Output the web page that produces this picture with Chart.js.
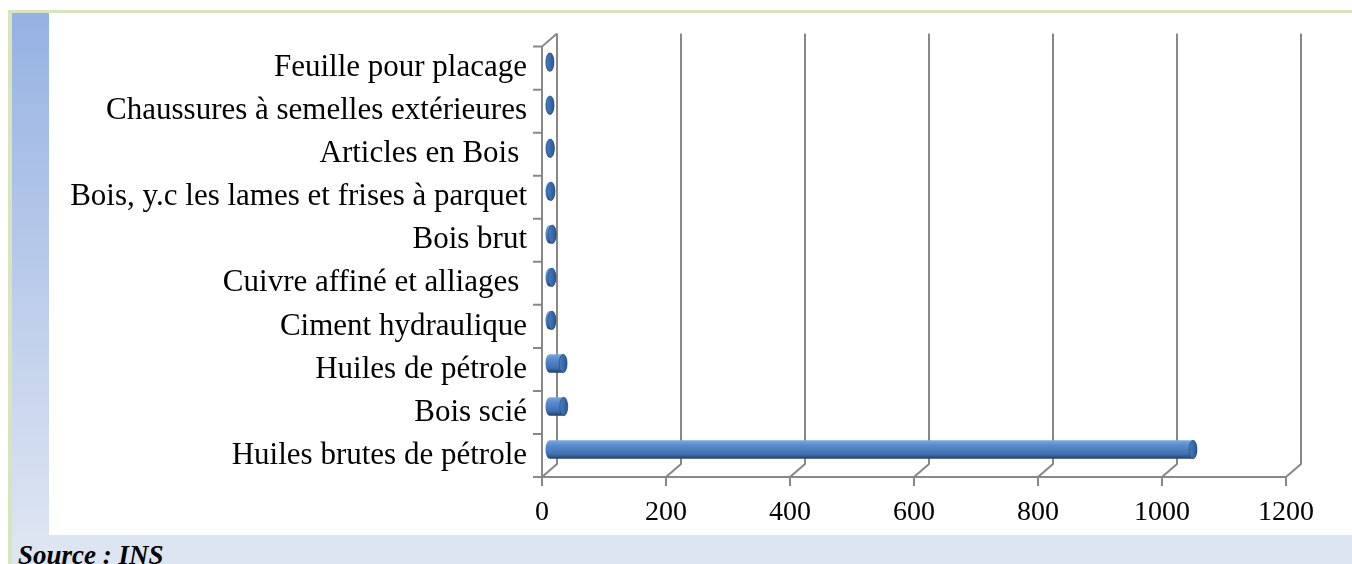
<!DOCTYPE html>
<html>
<head>
<meta charset="utf-8">
<script src="https://cdn.jsdelivr.net/npm/chart.js@4/dist/chart.umd.min.js"></script>
<style>
    html, body { margin: 0; padding: 0; background: #fff; }
    #frame { position: relative; width: 1352px; height: 564px; overflow: hidden; background: #fff; }
    #greenTop { position: absolute; left: 8px; top: 10px; width: 1344px; height: 3px; background: #d7e4bd; }
    #greenLeft { position: absolute; left: 8px; top: 10px; width: 4px; height: 554px; background: #d7e4bd; }
    #strip { position: absolute; left: 12px; top: 13px; width: 37px; height: 551px;
             background: linear-gradient(#96b2e2 0%, #dde4f2 95%); }
    #band { position: absolute; left: 12px; top: 535px; width: 1340px; height: 29px; background: #dde4f2; }
    #source { position: absolute; left: 18px; top: 540px; line-height: 27px;
              font: bold italic 27px "Liberation Serif", serif; color: #000; white-space: nowrap; }
    #wrap { position: absolute; left: 49px; top: 13px; width: 1303px; height: 522px; }
</style>
</head>
<body>
<div id="frame">
    <div id="greenTop"></div>
    <div id="greenLeft"></div>
    <div id="strip"></div>
    <div id="band"></div>
    <div id="source">Source : INS</div>
    <div id="wrap"><canvas id="chart"></canvas></div>
</div>
<script>
    // categories, top to bottom
    const categories = [
        'Feuille pour placage',
        'Chaussures à semelles extérieures',
        'Articles en Bois ',
        'Bois, y.c les lames et frises à parquet',
        'Bois brut',
        'Cuivre affiné et alliages ',
        'Ciment hydraulique',
        'Huiles de pétrole',
        'Bois scié',
        'Huiles brutes de pétrole'
    ];
    const values = [0.8, 1, 1.5, 2.5, 4.5, 4, 4, 22, 23, 1038];
    const xTicks = [0, 200, 400, 600, 800, 1000, 1200];

    // depth of the 3D box (back wall offset)
    const DX = 15, DY = 13;
    const GRID = '#888888';

    // back wall grid, floor diagonals, front edges and tick marks
    const frame3d = {
        id: 'frame3d',
        beforeDatasetsDraw(chart) {
            const ctx = chart.ctx, a = chart.chartArea;
            const xs = chart.scales.x, ys = chart.scales.y;
            ctx.save();
            ctx.strokeStyle = GRID;
            ctx.lineWidth = 2;
            ctx.beginPath();
            xTicks.forEach(function (v) {
                const x = xs.getPixelForValue(v);
                ctx.moveTo(x, a.bottom + 9);
                ctx.lineTo(x, a.bottom);
                ctx.lineTo(x + DX, a.bottom - DY);
                ctx.lineTo(x + DX, a.top - DY);
            });
            ctx.moveTo(a.left, a.bottom);
            ctx.lineTo(xs.getPixelForValue(1200), a.bottom);
            ctx.moveTo(a.left, a.bottom);
            ctx.lineTo(a.left, a.top);
            ctx.lineTo(a.left + DX, a.top - DY);
            for (let i = 0; i <= categories.length; i++) {
                const y = ys.getPixelForValue(i - 0.5);
                ctx.moveTo(a.left - 9, y);
                ctx.lineTo(a.left, y);
            }
            ctx.stroke();
            ctx.restore();
        }
    };

    // bars drawn as cylinders at mid depth
    const cylinders = {
        id: 'cylinders',
        afterDatasetsDraw(chart) {
            const ctx = chart.ctx;
            const meta = chart.getDatasetMeta(0);
            meta.data.forEach(function (bar) {
                const p = bar.getProps(['x', 'y', 'base', 'height'], true);
                const ry = p.height / 2, rx = 4;
                const cy = p.y - 6;
                const x0 = p.base + 7.5, x1 = p.x + 7.5;
                const top = cy - ry, bot = cy + ry;

                const g = ctx.createLinearGradient(0, top, 0, bot);
                g.addColorStop(0, '#7fa9e0');
                g.addColorStop(0.25, '#5b8dd0');
                g.addColorStop(0.75, '#4070b0');
                g.addColorStop(1, '#213f6b');

                ctx.save();
                ctx.beginPath();
                ctx.ellipse(x0, cy, rx, ry, 0, Math.PI / 2, Math.PI * 1.5);
                ctx.lineTo(x1, top);
                ctx.ellipse(x1, cy, rx, ry, 0, -Math.PI / 2, Math.PI / 2);
                ctx.closePath();
                ctx.fillStyle = g;
                ctx.fill();

                const cg = ctx.createLinearGradient(x1 - rx, 0, x1 + rx, 0);
                cg.addColorStop(0, '#4a7cbd');
                cg.addColorStop(1, '#2c5892');
                ctx.beginPath();
                ctx.ellipse(x1, cy, rx, ry, 0, 0, Math.PI * 2);
                ctx.fillStyle = cg;
                ctx.fill();
                ctx.strokeStyle = 'rgba(30,60,100,0.6)';
                ctx.lineWidth = 0.8;
                ctx.stroke();
                ctx.restore();
            });
        }
    };

    const serif = '"Liberation Serif", serif';

    new Chart(document.getElementById('chart'), {
        type: 'bar',
        data: {
            labels: categories,
            datasets: [{
                data: values,
                backgroundColor: 'rgba(0,0,0,0)',
                borderWidth: 0,
                categoryPercentage: 1,
                barPercentage: 0.43
            }]
        },
        options: {
            indexAxis: 'y',
            responsive: true,
            maintainAspectRatio: false,
            animation: false,
            layout: { padding: { left: 0, right: 66, top: 19, bottom: 0 } },
            plugins: {
                legend: { display: false },
                tooltip: { enabled: false }
            },
            scales: {
                x: {
                    min: 0,
                    max: 1200,
                    grid: { display: false, drawTicks: false },
                    border: { display: false },
                    ticks: { stepSize: 200, color: '#000', font: { family: serif, size: 28 }, padding: 19,
                             maxRotation: 0, autoSkip: false,
                             callback: function (v) { return String(v); } },
                    afterFit: function (s) { s.height = 58; }
                },
                y: {
                    grid: { display: false, drawTicks: false },
                    border: { display: false },
                    ticks: { color: '#000', font: { family: serif, size: 31 }, padding: 15, autoSkip: false },
                    afterFit: function (s) { s.width = 493; }
                }
            }
        },
        plugins: [frame3d, cylinders]
    });
</script>
</body>
</html>
